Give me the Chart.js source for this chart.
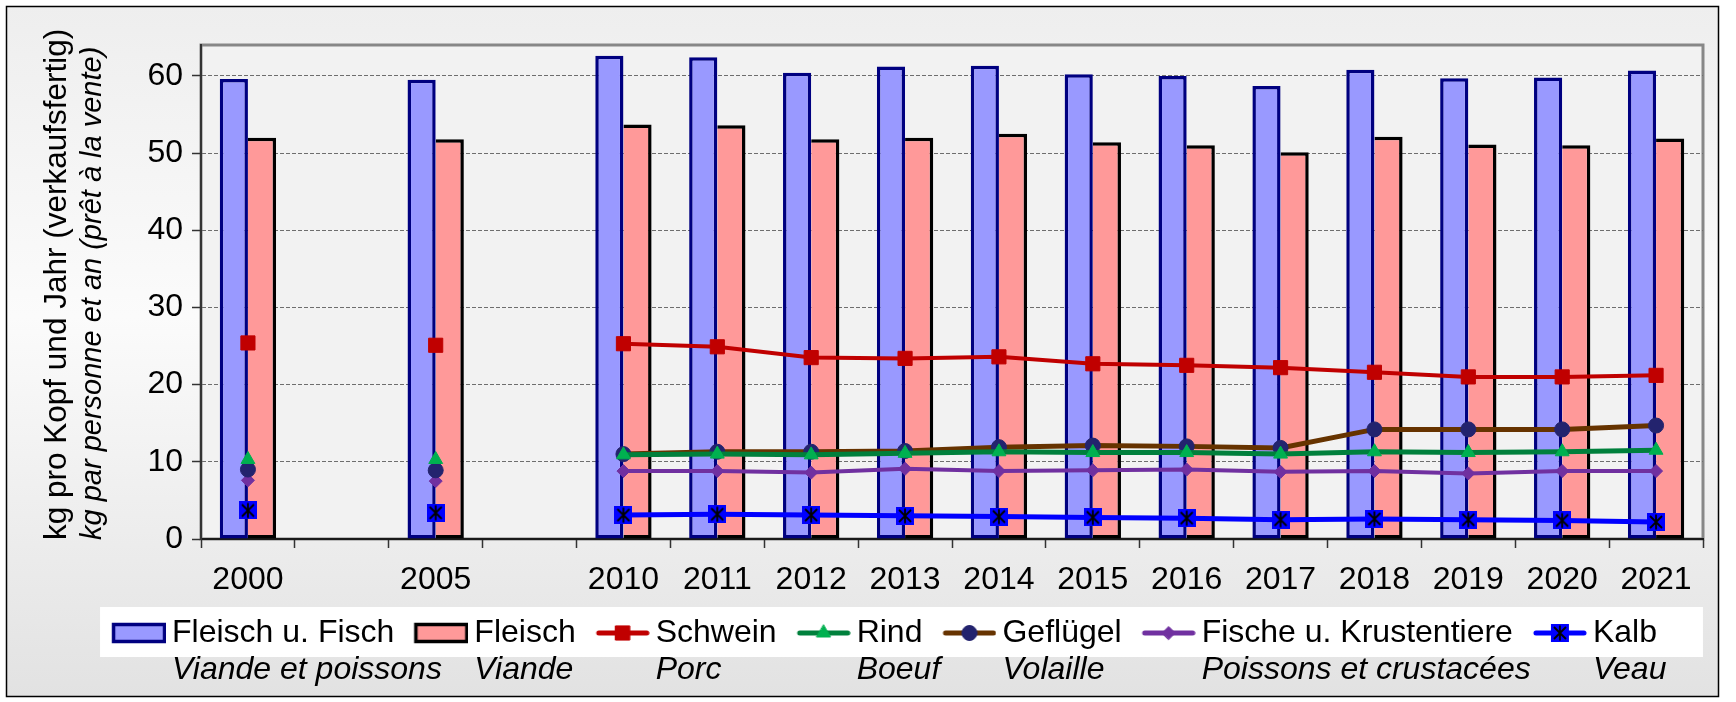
<!DOCTYPE html>
<html>
<head>
<meta charset="utf-8">
<script src="https://cdn.jsdelivr.net/npm/chart.js@4.4.0/dist/chart.umd.min.js"></script>
<style>
    html, body { margin: 0; padding: 0; background: #ffffff; }
    #wrap { width: 1736px; height: 702px; }
</style>
</head>
<body>
<div id="wrap"><canvas id="konsum" width="1736" height="702"></canvas></div>
<script>
const years = ["2000", "", "2005", "", "2010", "2011", "2012", "2013", "2014", "2015", "2016", "2017", "2018", "2019", "2020", "2021"];
const fleischFisch = [59.6, null, 59.5, null, 62.6, 62.4, 60.4, 61.2, 61.3, 60.2, 60.0, 58.7, 60.8, 59.7, 59.8, 60.7];
const fleisch = [52.0, null, 51.8, null, 53.7, 53.6, 51.8, 52.0, 52.5, 51.4, 51.0, 50.1, 52.1, 51.1, 51.0, 51.9];
const schwein = [25.4, null, 25.1, null, 25.3, 24.9, 23.5, 23.4, 23.6, 22.7, 22.5, 22.2, 21.6, 21.0, 21.0, 21.2];
const rind = [10.3, null, 10.3, null, 10.9, 11.0, 10.9, 11.1, 11.3, 11.2, 11.2, 11.0, 11.3, 11.2, 11.3, 11.5];
const gefluegel = [9.0, null, 8.9, null, 11.0, 11.3, 11.3, 11.4, 11.9, 12.1, 12.0, 11.8, 14.2, 14.2, 14.2, 14.7];
const fische = [7.6, null, 7.5, null, 8.8, 8.8, 8.6, 9.1, 8.8, 8.9, 9.0, 8.7, 8.8, 8.5, 8.8, 8.8];
const kalb = [3.7, null, 3.4, null, 3.1, 3.2, 3.1, 3.0, 2.9, 2.8, 2.7, 2.5, 2.6, 2.5, 2.4, 2.2];

const labelsDe = ["Fleisch u. Fisch", "Fleisch", "Schwein", "Rind", "Geflügel", "Fische u. Krustentiere", "Kalb"];
const labelsFr = ["Viande et poissons", "Viande", "Porc", "Boeuf", "Volaille", "Poissons et crustacées", "Veau"];
const yTitleDe = "kg pro Kopf und Jahr (verkaufsfertig)";
const yTitleFr = "kg par personne et an (prêt à la vente)";
const yMax = 64;
const yStep = 10;

const family = "'Liberation Sans', Arial, sans-serif";
const fontSize = 32;
const symbolBox = 54;
Chart.defaults.font.family = family;

const makeCanvas = (w, h) => {
    const c = document.createElement("canvas");
    c.width = w;
    c.height = h;
    return c;
};

const kalbMarker = (() => {
    const c = makeCanvas(18, 18);
    const g = c.getContext("2d");
    g.fillStyle = "#0000ff";
    g.fillRect(0, 0, 18, 18);
    g.strokeStyle = "#000000";
    g.lineWidth = 1.8;
    g.beginPath();
    g.moveTo(3, 3); g.lineTo(15, 15);
    g.moveTo(15, 3); g.lineTo(3, 15);
    g.moveTo(9, 1.5); g.lineTo(9, 16.5);
    g.stroke();
    return c;
})();

const lineSet = (i, data, color, width, style, radius, markerColor) => ({
    type: "line",
    label: labelsDe[i],
    data: data,
    borderColor: color,
    borderWidth: width,
    pointStyle: style,
    pointRadius: radius,
    pointHoverRadius: radius,
    pointBackgroundColor: markerColor,
    pointBorderColor: markerColor,
    pointBorderWidth: 1,
    tension: 0,
    spanGaps: false,
    fill: false,
    order: 0,
});

const datasets = [
    {
        type: "bar",
        label: labelsDe[0],
        data: fleischFisch,
        backgroundColor: "#9999ff",
        borderColor: "#000080",
        borderWidth: 3.5,
        borderSkipped: false,
        order: 1,
    },
    {
        type: "bar",
        label: labelsDe[1],
        data: fleisch,
        backgroundColor: "#ff9999",
        borderColor: "#000000",
        borderWidth: 3.5,
        borderSkipped: "left",
        order: 1,
    },
    lineSet(2, schwein, "#c00000", 4, "rect", 10, "#c00000"),
    lineSet(3, rind, "#00803c", 5, "triangle", 8, "#00b050"),
    lineSet(4, gefluegel, "#663300", 5, "circle", 7.5, "#23236e"),
    lineSet(5, fische, "#7030a0", 4, "rectRot", 6.5, "#7030a0"),
    lineSet(6, kalb, "#0000ff", 5, kalbMarker, 9, "#0000ff"),
];

// legend symbols: bar box or line with its marker, drawn right-aligned in the canvas
const legendSymbols = datasets.map((ds) => {
    const c = makeCanvas(symbolBox + 20, 26);
    const g = c.getContext("2d");
    if (ds.type === "bar") {
        g.fillStyle = ds.backgroundColor;
        g.fillRect(21.5, 4.5, 51, 17);
        g.strokeStyle = ds.borderColor;
        g.lineWidth = 3.5;
        g.strokeRect(21.5, 4.5, 51, 17);
    } else {
        g.strokeStyle = ds.borderColor;
        g.lineWidth = 5;
        g.lineCap = "round";
        g.beginPath();
        g.moveTo(23, 13);
        g.lineTo(71, 13);
        g.stroke();
        g.fillStyle = ds.pointBackgroundColor;
        g.strokeStyle = ds.pointBorderColor;
        g.lineWidth = 1;
        Chart.helpers.drawPoint(g, { pointStyle: ds.pointStyle, radius: ds.pointRadius, rotation: 0, borderWidth: 1 }, 47, 13);
    }
    return c;
});

const frame = {
    id: "frame",
    beforeDraw(chart) {
        const { ctx, chartArea: a, width, height, legend } = chart;
        ctx.save();
        ctx.fillStyle = "#ffffff";
        ctx.fillRect(0, 0, width, height);
        const grad = ctx.createLinearGradient(0, 6, 0, 697);
        grad.addColorStop(0, "#eeeeee");
        grad.addColorStop(0.45, "#fbfbfb");
        grad.addColorStop(1, "#e2e2e2");
        ctx.fillStyle = grad;
        ctx.fillRect(6.5, 6.5, 1712, 690);
        ctx.strokeStyle = "#000000";
        ctx.lineWidth = 1.5;
        ctx.strokeRect(6.5, 6.5, 1712, 690);
        ctx.fillStyle = "#f2f2f2";
        ctx.fillRect(a.left, a.top, a.right - a.left, a.bottom - a.top);
        ctx.strokeStyle = "#878787";
        ctx.lineWidth = 3;
        ctx.strokeRect(a.left, a.top, a.right - a.left, a.bottom - a.top);
        const hb = legend.legendHitBoxes;
        const first = hb[0];
        const last = hb[hb.length - 1];
        ctx.fillStyle = "#ffffff";
        ctx.fillRect(first.left - 2, legend.top, last.left + last.width + 48 - first.left, legend.height - 2);
        ctx.restore();
    },
    afterDraw(chart) {
        const { ctx, chartArea: a, legend } = chart;
        ctx.save();
        ctx.fillStyle = "#000000";
        ctx.textBaseline = "middle";
        ctx.textAlign = "left";
        ctx.font = "italic " + fontSize + "px " + family;
        legend.legendHitBoxes.forEach((hb, i) => {
            ctx.fillText(labelsFr[i], hb.left + symbolBox + fontSize / 2, hb.top + hb.height / 2 + 37);
        });
        ctx.translate(57, a.bottom + 1);
        ctx.rotate(-Math.PI / 2);
        ctx.font = "31.5px " + family;
        ctx.fillText(yTitleDe, 0, 0);
        ctx.font = "italic 29px " + family;
        ctx.fillText(yTitleFr, 0, 36);
        ctx.restore();
    },
};

new Chart(document.getElementById("konsum"), {
    type: "bar",
    data: { labels: years, datasets: datasets },
    options: {
        responsive: false,
        animation: false,
        devicePixelRatio: 1,
        datasets: {
            bar: { categoryPercentage: 0.6, barPercentage: 1.0 },
        },
        layout: { padding: { left: 56, right: 33, top: 45, bottom: 43 } },
        plugins: {
            tooltip: { enabled: false },
            legend: {
                position: "bottom",
                labels: {
                    usePointStyle: true,
                    pointStyleWidth: symbolBox,
                    padding: 10,
                    color: "#000000",
                    font: { family: family, size: fontSize },
                    generateLabels: (chart) => chart.data.datasets.map((ds, i) => ({
                        text: ds.label,
                        pointStyle: legendSymbols[i],
                        fillStyle: "rgba(0,0,0,0)",
                        strokeStyle: "rgba(0,0,0,0)",
                        lineWidth: 0,
                        hidden: false,
                        datasetIndex: i,
                        fontColor: "#000000",
                    })),
                },
            },
        },
        scales: {
            x: {
                offset: true,
                grid: { offset: true, drawOnChartArea: false, drawTicks: true, tickLength: 9, tickColor: "#333333", tickWidth: 1.5 },
                border: { display: true, color: "#1a1a1a", width: 2 },
                ticks: { autoSkip: false, maxRotation: 0, padding: 13, color: "#000000", font: { family: family, size: fontSize } },
                afterFit: (scale) => { scale.height = 68; },
            },
            y: {
                min: 0,
                max: yMax,
                grid: { color: "#6e6e6e", lineWidth: 1, tickLength: 9, tickColor: "#333333", tickWidth: 1.5 },
                border: { display: true, color: "#333333", width: 2, dash: [4, 2] },
                ticks: { stepSize: yStep, includeBounds: false, padding: 9, color: "#000000", font: { family: family, size: fontSize } },
                afterFit: (scale) => { scale.width = 145; },
            },
        },
    },
    plugins: [frame],
});
</script>
</body>
</html>
